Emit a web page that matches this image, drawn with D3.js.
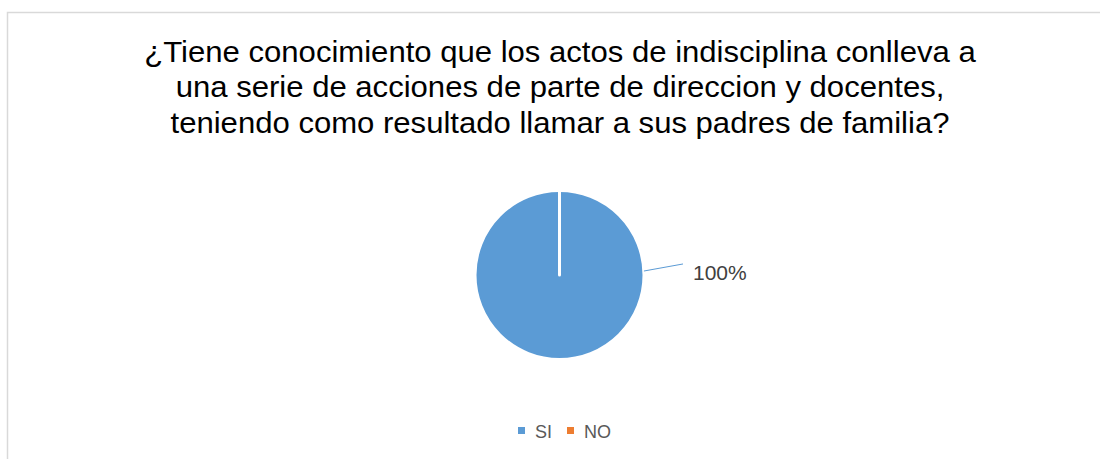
<!DOCTYPE html>
<html>
<head>
<meta charset="utf-8">
<script src="https://cdn.jsdelivr.net/npm/d3@7"></script>
<style>
  html, body { margin: 0; padding: 0; background: #fff; }
  svg { display: block; }
</style>
</head>
<body>
<svg id="chart" width="1100" height="459"></svg>
<script>
const titleLines = [
  "¿Tiene conocimiento que los actos de indisciplina conlleva a",
  "una serie de acciones de parte de direccion y docentes,",
  "teniendo como resultado llamar a sus padres de familia?"
];
const categories = ["SI", "NO"];
const values = [100, 0];
const colors = ["#5b9bd5", "#ed7d31"];

const svg = d3.select("#chart");
const W = 1100, H = 459;

// chart border
svg.append("rect")
  .attr("x", 7.5).attr("y", 12.5)
  .attr("width", W + 10).attr("height", H + 10)
  .attr("fill", "#fff")
  .attr("stroke", "#d9d9d9").attr("stroke-width", 1.5);

// title (reference glyphs are slightly wider than Liberation Sans)
const titleX = 560;
const title = svg.append("g")
  .attr("transform", `translate(${titleX},0) scale(1.072,1)`)
  .append("text")
  .attr("text-anchor", "middle")
  .attr("font-family", "'Liberation Sans', Arial, sans-serif")
  .attr("font-size", 29)
  .attr("fill", "#000");
titleLines.forEach((t, i) => {
  title.append("tspan").attr("x", 0).attr("y", 62 + i * 35.5).text(t);
});

// pie
const cx = 559.5, cy = 275, R = 84.5;
const data = categories.map((c, i) => ({ cat: c, value: values[i], color: colors[i] }));
const pie = d3.pie().value(d => d.value).sort(null);
const arcs = pie(data);
const arc = d3.arc().innerRadius(0).outerRadius(R);

const g = svg.append("g").attr("transform", `translate(${cx},${cy})`);
g.selectAll("path.slice")
  .data(arcs)
  .join("path")
  .attr("class", "slice")
  .attr("d", arc)
  .attr("fill", d => d.data.color)
  .attr("stroke", "#fff")
  .attr("stroke-width", 3)
  .attr("stroke-linejoin", "round");

// data label with leader line (Excel best-fit places it to the right)
const total = d3.sum(values);
const fmt = v => Math.round(v / total * 100) + "%";
const labelAngle = Math.PI / 2 - 0.047; // radians from 12 o'clock
arcs.filter(d => d.value > 0).forEach(d => {
  const p0 = [Math.sin(labelAngle) * R, -Math.cos(labelAngle) * R];
  const a1 = labelAngle - 0.042, r1 = R + 39.5;
  const p1 = [Math.sin(a1) * r1, -Math.cos(a1) * r1];
  g.append("line")
    .attr("x1", p0[0]).attr("y1", p0[1])
    .attr("x2", p1[0]).attr("y2", p1[1])
    .attr("stroke", d.data.color).attr("stroke-width", 1);
  g.append("text")
    .attr("x", p1[0] + 10).attr("y", p1[1] + 16)
    .attr("font-family", "'Liberation Sans', Arial, sans-serif")
    .attr("font-size", 21)
    .attr("fill", "#404040")
    .text(fmt(d.value));
});

// legend
const legend = svg.append("g").attr("transform", "translate(518,427)");
const items = legend.selectAll("g.item")
  .data(data)
  .join("g")
  .attr("class", "item")
  .attr("transform", (d, i) => `translate(${i * 49},0)`);
items.append("rect")
  .attr("width", 7).attr("height", 7)
  .attr("fill", d => d.color);
items.append("text")
  .attr("x", 17).attr("y", 11)
  .attr("font-family", "'Liberation Sans', Arial, sans-serif")
  .attr("font-size", 18)
  .attr("fill", "#595959")
  .text(d => d.cat);
</script>
</body>
</html>
